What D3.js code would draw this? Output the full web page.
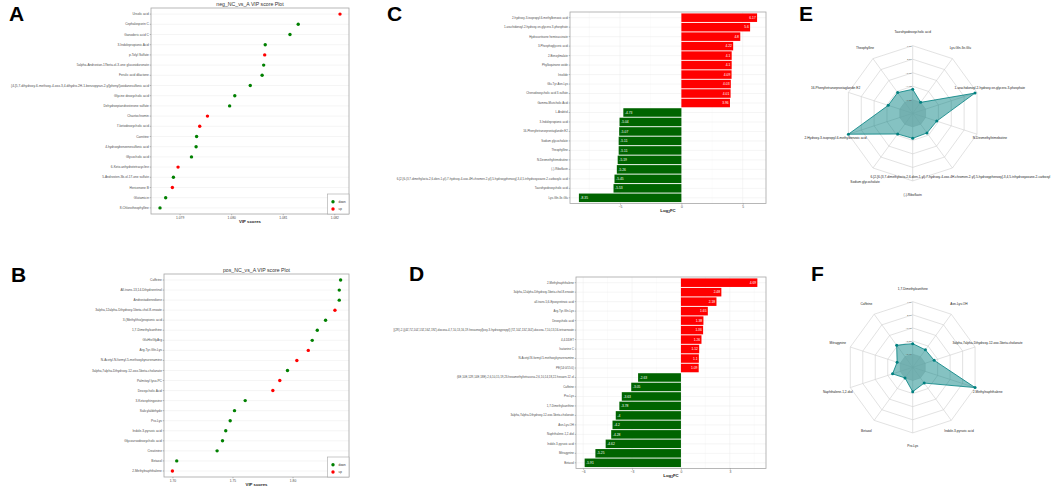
<!DOCTYPE html>
<html>
<head>
<meta charset="utf-8">
<script src="https://cdn.jsdelivr.net/npm/d3@7"></script>
<style>
body { margin: 0; background: #fff; }
text { font-family: "Liberation Sans", Arial, sans-serif; }
</style>
</head>
<body>
<svg id="fig" width="1059" height="489"></svg>
<script>
// ---- A: neg VIP ----
var negVipNames = ['Ursolic acid', 'Cephalosporin C', 'Ganoderic acid C', '3-Indolepropionic Acid', 'p-Tolyl Sulfate',
    '5alpha-Androstan-17beta-ol-3-one glucosiduronate', 'Ferulic acid dilactone',
    '{4-[5,7-dihydroxy-6-methoxy-4-oxo-3,4-dihydro-2H-1-benzopyran-2-yl]phenyl}oxidanesulfonic acid',
    'Glycine deoxycholic acid', 'Dehydroepiandrosterone sulfate', 'Chaetochromin', '7-ketodeoxycholic acid',
    'Carnitine', '4-hydroxybenzenesulfonic acid', 'Glycocholic acid', '6-Keto-anhydrotetracycline',
    '5-Androsten-3b-ol-17-one sulfate', 'Hericenone B', 'Glutamicin', '8-Chlorotheophylline'];
var negVipScores = [1.08211, 1.08130, 1.08114, 1.08066, 1.08065, 1.08063, 1.08060, 1.08037, 1.08007, 1.07997,
    1.07954, 1.07939, 1.07933, 1.07932, 1.07923, 1.07897, 1.07888, 1.07886, 1.07873, 1.07862];
var negVipGroups = ['up', 'down', 'down', 'down', 'up', 'down', 'down', 'down', 'down', 'down',
    'up', 'up', 'down', 'down', 'down', 'up', 'down', 'up', 'down', 'down'];
var negVipTicks = [1.079, 1.080, 1.081, 1.082];

// ---- B: pos VIP ----
var posVipNames = ['Caffeine', 'All-trans-13,14-Dihydroretinol', 'Androstadienedione',
    '3alpha,12alpha-Dihydroxy-5beta-chol-8-enoate', '3-(Methylthio)propionic acid', '1,7-Dimethylxanthine',
    'GluHisGlyArg', 'Arg-Tyr-Gln-Lys', 'N-Acetyl-N-formyl-5-methoxykynurenamine',
    '3alpha,7alpha-Dihydroxy-12-oxo-5beta-cholanate', 'Palmitoyl lyso-PC', 'Deoxycholic Acid',
    '3-Ketosphingosine', 'Salicylaldehyde', 'Pro-Lys', 'Indole-3-pyruvic acid', 'Glycoursodeoxycholic acid',
    'Creatinine', 'Betaxol', '2-Methylnaphthalene'];
var posVipScores = [1.8400, 1.8389, 1.8389, 1.8353, 1.8275, 1.8206, 1.8164, 1.8131, 1.8036, 1.7958,
    1.7894, 1.7836, 1.7606, 1.7517, 1.7481, 1.7444, 1.7417, 1.7372, 1.7036, 1.7000];
var posVipGroups = ['down', 'down', 'down', 'up', 'down', 'down', 'down', 'up', 'up', 'down',
    'up', 'up', 'down', 'down', 'down', 'down', 'down', 'down', 'down', 'up'];
var posVipTicks = [1.70, 1.75, 1.80];

// ---- C: neg log2FC ----
var negFcNames = ['2-hydroxy-3-isopropyl-6-methylbenzoic acid', '1-arachidonoyl-2-hydroxy-sn-glycero-3-phosphate',
    'Hydrocortisone hemisuccinate', '3-Phosphoglyceric acid', '2-Benzylmalate', 'Phylloquinone oxide',
    'Irisolide', 'Glu-Tyr-Asn-Lys', 'Chenodeoxycholic acid 3-sulfate', 'Gamma-Muricholic Acid',
    'L-Arabitol', '3-Indolepropionic acid', '16-Phenyltetranorprostaglandin E2', 'Sodium glycocholate',
    'Theophylline', 'N-Desmethyltrimebutine', '(-)-Riboflavin',
    '6-[2-[6-(3,7-dimethylocta-2,6-dien-1-yl)-7-hydroxy-4-oxo-4H-chromen-2-yl]-5-hydroxyphenoxy]-3,4,5-trihydroxyoxane-2-carboxylic acid',
    'Taurohyodeoxycholic acid', 'Lys-Gln-Ile-Glu'];
var negFcValues = [6.17, 5.6, 4.8, 4.22, 4.1, 4.1, 4.09, 4.03, 4.01, 3.96,
    -4.73, -5.04, -5.07, -5.11, -5.11, -5.19, -5.26, -5.45, -5.53, -8.35];
var negFcTicks = [-5, 0, 5];

// ---- D: pos log2FC ----
var posFcNames = ['2-Methylnaphthalene', '3alpha,12alpha-Dihydroxy-5beta-chol-8-enoate',
    'all-trans-5,6-Epoxyretinoic acid', 'Arg-Tyr-Gln-Lys', 'Deoxycholic acid',
    '[(2R)-2-[(4Z,7Z,10Z,13Z,16Z,19Z)-docosa-4,7,10,13,16,19-hexaenoyl]oxy-3-hydroxypropyl] (7Z,10Z,13Z,16Z)-docosa-7,10,13,16-tetraenoate',
    '4,4-DDET', 'Isatanine C', 'N-Acetyl-N-formyl-5-methoxykynurenamine', 'PE(14:0/15:0)',
    '(6E,10E,12R,14E,18E)-2,6,10,15,19,23-hexamethyltetracosa-2,6,10,14,18,22-hexaen-12-ol',
    'Caffeine', 'Pro-Lys', '1,7-Dimethylxanthine', '3alpha,7alpha-Dihydroxy-12-oxo-5beta-cholanate',
    'Asn-Lys-OH', 'Naphthalene-1,2-diol', 'Indole-3-pyruvic acid', 'Mitragynine', 'Betaxol'];
var posFcValues = [4.69, 2.48, 2.18, 1.65, 1.38, 1.36, 1.26, 1.12, 1.1, 1.09,
    -2.63, -3.05, -3.63, -3.78, -4, -4.2, -4.28, -4.62, -5.25, -5.91];
var posFcTicks = [-6, -3, 0, 3];

// ---- E / F: radar ----
var negRadarAxes = ['Taurohyodeoxycholic acid', 'Lys-Gln-Ile-Glu', '1-arachidonoyl-2-hydroxy-sn-glycero-3-phosphate',
    'N-Desmethyltrimebutine',
    '6-[2-[6-(3,7-dimethylocta-2,6-dien-1-yl)-7-hydroxy-4-oxo-4H-chromen-2-yl]-5-hydroxyphenoxy]-3,4,5-trihydroxyoxane-2-carboxyl',
    '(-)-Riboflavin', 'Sodium glycocholate', '2-Hydroxy-3-isopropyl-6-methylbenzoic acid',
    '16-Phenyltetranorprostaglandin E2', 'Theophylline'];
var negRadarValues = [-5.53, -8.35, 5.6, -5.19, -5.45, -5.26, -5.11, 6.17, -5.07, -5.11];
var posRadarAxes = ['1,7-Dimethylxanthine', 'Asn-Lys-OH', '3alpha,7alpha-Dihydroxy-12-oxo-5beta-cholanate',
    '2-Methylnaphthalene', 'Indole-3-pyruvic acid', 'Pro-Lys', 'Betaxol', 'Naphthalene-1,2-diol',
    'Mitragynine', 'Caffeine'];
var posRadarValues = [-3.78, -4.2, -4, 4.69, -4.62, -3.63, -5.91, -4.28, -5.25, -3.05];

var RED = '#ff0000', GREEN_DOT = '#008000', GREEN_BAR = '#006400', TEAL = '#008080';

var svg = d3.select('#fig');

// ggplot-like discrete axis: centres at 0.6 step from the frame
function rowScale(names, y0, y1) {
    return d3.scaleBand().domain(names).range([y0, y1]).paddingInner(0.1).paddingOuter(0.15);
}
function expanded(values, withZero) {
    var ext = d3.extent(withZero ? values.concat([0]) : values),
        pad = (ext[1] - ext[0]) * 0.05;
    return [ext[0] - pad, ext[1] + pad];
}

function frame(g, x0, x1, y0, y1) {
    g.append('rect').attr('x', x0).attr('y', y0).attr('width', x1 - x0).attr('height', y1 - y0)
        .attr('fill', 'none').attr('stroke', '#a6a6a6').attr('stroke-width', 0.8);
}

function yLabels(g, y, x0, fs) {
    var ax = g.append('g').attr('transform', 'translate(' + x0 + ',0)')
        .call(d3.axisLeft(y).tickSize(1.3).tickPadding(0.8));
    ax.select('.domain').remove();
    ax.selectAll('line').attr('stroke', '#555').attr('stroke-width', 0.35);
    ax.selectAll('text').attr('font-size', fs).attr('fill', '#4d4d4d').attr('font-family', null);
}

function xAxis(g, x, ticks, fmt, y1, title, titleY, sub) {
    var ax = g.append('g').attr('transform', 'translate(0,' + y1 + ')')
        .call(d3.axisBottom(x).tickValues(ticks).tickSize(1.3).tickPadding(1.2).tickFormat(fmt));
    ax.select('.domain').remove();
    ax.selectAll('line').attr('stroke', '#555').attr('stroke-width', 0.35);
    ax.selectAll('text').attr('font-size', 3.3).attr('fill', '#4d4d4d').attr('font-family', null);
    var r = x.range();
    var t = g.append('text').attr('x', (r[0] + r[1]) / 2).attr('y', titleY)
        .attr('text-anchor', 'middle').attr('font-size', 4.3).attr('font-weight', 'bold').attr('fill', '#222');
    if (sub) {
        t.append('tspan').text('Log');
        t.append('tspan').text('2').attr('font-size', 3).attr('dy', 1);
        t.append('tspan').text('FC').attr('dy', -1);
    } else t.text(title);
}

function vipPlot(c) {
    var g = svg.append('g');
    var x = d3.scaleLinear().domain(expanded(c.scores)).range([c.x0, c.x1]),
        y = rowScale(c.names, c.y0, c.y1);

    g.selectAll('.hg').data(c.names).enter().append('line')
        .attr('x1', c.x0).attr('x2', c.x1)
        .attr('y1', function (d) { return y(d) + y.bandwidth() / 2; })
        .attr('y2', function (d) { return y(d) + y.bandwidth() / 2; })
        .attr('stroke', '#ebebeb').attr('stroke-width', 0.5);
    frame(g, c.x0, c.x1, c.y0, c.y1);

    g.selectAll('.pt').data(c.names).enter().append('circle')
        .attr('cx', function (d, i) { return x(c.scores[i]); })
        .attr('cy', function (d) { return y(d) + y.bandwidth() / 2; })
        .attr('r', 1.7)
        .attr('fill', function (d, i) { return c.groups[i] === 'up' ? RED : GREEN_DOT; });

    yLabels(g, y, c.x0, 3.2);
    xAxis(g, x, c.ticks, c.fmt, c.y1, 'VIP scores', c.y1 + 8.5, false);

    g.append('text').attr('x', (c.x0 + c.x1) / 2).attr('y', c.y0 - 2.2).attr('text-anchor', 'middle')
        .attr('font-size', 5.2).attr('fill', '#333').text(c.title);

    // legend, bottom-right inside the panel
    var lg = g.append('g').attr('transform', 'translate(' + (c.x1 - 21.5) + ',' + (c.y1 - 20) + ')');
    lg.append('rect').attr('width', 21.5).attr('height', 20).attr('fill', '#fff')
        .attr('stroke', '#a6a6a6').attr('stroke-width', 0.6);
    ['down', 'up'].forEach(function (k, i) {
        lg.append('circle').attr('cx', 5.5).attr('cy', 7.7 + i * 7.3).attr('r', 1.7)
            .attr('fill', k === 'up' ? RED : GREEN_DOT);
        lg.append('text').attr('x', 11).attr('y', 7.7 + i * 7.3).attr('dy', '0.35em')
            .attr('font-size', 3).attr('fill', '#333').text(k);
    });
}

function fcPlot(c) {
    var g = svg.append('g');
    var x = d3.scaleLinear().domain(expanded(c.values, true)).range([c.x0, c.x1]),
        y = rowScale(c.names, c.y0, c.y1);

    var minor = [];
    for (var i = 0; i < c.ticks.length - 1; i++) minor.push((c.ticks[i] + c.ticks[i + 1]) / 2);
    minor.unshift(c.ticks[0] - (c.ticks[1] - c.ticks[0]) / 2);
    minor.push(c.ticks[c.ticks.length - 1] + (c.ticks[1] - c.ticks[0]) / 2);
    minor = minor.filter(function (v) { return x(v) > c.x0 && x(v) < c.x1; });

    g.selectAll('.mg').data(minor).enter().append('line')
        .attr('x1', x).attr('x2', x).attr('y1', c.y0).attr('y2', c.y1)
        .attr('stroke', '#f3f3f3').attr('stroke-width', 0.35);
    g.selectAll('.vg').data(c.ticks).enter().append('line')
        .attr('x1', x).attr('x2', x).attr('y1', c.y0).attr('y2', c.y1)
        .attr('stroke', '#ebebeb').attr('stroke-width', 0.5);
    g.selectAll('.hg').data(c.names).enter().append('line')
        .attr('x1', c.x0).attr('x2', c.x1)
        .attr('y1', function (d) { return y(d) + y.bandwidth() / 2; })
        .attr('y2', function (d) { return y(d) + y.bandwidth() / 2; })
        .attr('stroke', '#ebebeb').attr('stroke-width', 0.5);

    g.selectAll('.bar').data(c.names).enter().append('rect')
        .attr('x', function (d, i) { return x(Math.min(0, c.values[i])); })
        .attr('width', function (d, i) { return Math.abs(x(c.values[i]) - x(0)); })
        .attr('y', function (d) { return y(d); })
        .attr('height', y.bandwidth())
        .attr('fill', function (d, i) { return c.values[i] > 0 ? RED : GREEN_BAR; });

    g.selectAll('.val').data(c.names).enter().append('text')
        .attr('x', function (d, i) { return x(c.values[i]) + (c.values[i] > 0 ? -1.3 : 1.6); })
        .attr('y', function (d) { return y(d) + y.bandwidth() / 2; })
        .attr('dy', '0.35em')
        .attr('text-anchor', function (d, i) { return c.values[i] > 0 ? 'end' : 'start'; })
        .attr('font-size', 3.3).attr('fill', '#fff')
        .text(function (d, i) { return c.values[i]; });

    frame(g, c.x0, c.x1, c.y0, c.y1);
    yLabels(g, y, c.x0, 2.9);
    xAxis(g, x, c.ticks, d3.format('d'), c.y1, null, c.y1 + 8, true);
}

function radar(c) {
    var g = svg.append('g').attr('transform', 'translate(' + c.cx + ',' + c.cy + ')');
    var n = c.axes.length,
        ext = d3.extent(c.values),
        r = d3.scaleLinear().domain(ext).range([c.R / 5, c.R]),
        ang = function (i) { return i * 2 * Math.PI / n; };
    function pt(i, rad) { return [rad * Math.sin(ang(i)), -rad * Math.cos(ang(i))]; }
    function ring(rad) { return d3.range(n).map(function (i) { return pt(i, rad); }); }

    g.append('polygon').attr('points', ring(c.R / 5).join(' ')).attr('fill', '#8c8c8c').attr('fill-opacity', 0.28);
    [1, 2, 3, 4, 5].forEach(function (k) {
        g.append('polygon').attr('points', ring(c.R * k / 5).join(' '))
            .attr('fill', 'none').attr('stroke', '#cfcfcf').attr('stroke-width', 0.6);
    });
    g.selectAll('.spoke').data(d3.range(n)).enter().append('line')
        .attr('x1', 0).attr('y1', 0)
        .attr('x2', function (i) { return pt(i, c.R)[0]; })
        .attr('y2', function (i) { return pt(i, c.R)[1]; })
        .attr('stroke', '#cfcfcf').attr('stroke-width', 0.6);

    var pts = c.values.map(function (v, i) { return pt(i, r(v)); });
    g.append('polygon').attr('points', pts.join(' '))
        .attr('fill', TEAL).attr('fill-opacity', 0.48)
        .attr('stroke', TEAL).attr('stroke-width', 0.8);
    g.selectAll('.dot').data(pts).enter().append('circle')
        .attr('cx', function (d) { return d[0]; }).attr('cy', function (d) { return d[1]; })
        .attr('r', 1.5).attr('fill', TEAL);

    // ring values along the top spoke
    var lv = d3.range(5).map(function (k) { return ext[0] + k * (ext[1] - ext[0]) / 4; });
    g.selectAll('.rv').data(lv).enter().append('text')
        .attr('x', -1).attr('y', function (d) { return -r(d); }).attr('dy', '0.35em')
        .attr('text-anchor', 'end').attr('font-size', 2.4).attr('fill', '#555')
        .text(function (d) { return d3.format('.2f')(d); });

    g.selectAll('.al').data(c.axes).enter().append('text')
        .attr('x', function (d, i) { return pt(i, c.R * 1.2)[0]; })
        .attr('y', function (d, i) { return pt(i, c.R * 1.2)[1] + (c.shift && c.shift[i] ? c.shift[i] : 0); })
        .attr('dy', '0.35em').attr('text-anchor', 'middle')
        .attr('font-size', 3.2).attr('fill', '#222').text(function (d) { return d; });
}

vipPlot({names: negVipNames, scores: negVipScores, groups: negVipGroups, ticks: negVipTicks,
    fmt: d3.format('.3f'), title: 'neg_NC_vs_A VIP score Plot', x0: 151, x1: 349, y0: 8, y1: 214});
vipPlot({names: posVipNames, scores: posVipScores, groups: posVipGroups, ticks: posVipTicks,
    fmt: d3.format('.2f'), title: 'pos_NC_vs_A VIP score Plot', x0: 164, x1: 349, y0: 274, y1: 477});
fcPlot({names: negFcNames, values: negFcValues, ticks: negFcTicks, x0: 570, x1: 766, y0: 12, y1: 203.5});
fcPlot({names: posFcNames, values: posFcValues, ticks: posFcTicks, x0: 576, x1: 766, y0: 277, y1: 468.5});
// the two lower-left labels of E collide; nudge one slightly down
radar({axes: negRadarAxes, values: negRadarValues, cx: 912.7, cy: 113.3, R: 67.6,
    shift: [0, 0, 0, 0, -2, 0, 2.6, 0, 0, 0]});
radar({axes: posRadarAxes, values: posRadarValues, cx: 912.7, cy: 367.3, R: 65.6});

// panel letters
var letters = [['A', 9, 20.5], ['B', 11, 282], ['C', 387, 20.5], ['D', 409, 281], ['E', 799, 20.5], ['F', 811, 281]];
svg.selectAll('.letter').data(letters).enter().append('text')
    .attr('x', function (d) { return d[1]; }).attr('y', function (d) { return d[2]; })
    .attr('font-size', 21).attr('font-weight', 'bold').attr('fill', '#000')
    .text(function (d) { return d[0]; });
</script>
</body>
</html>
